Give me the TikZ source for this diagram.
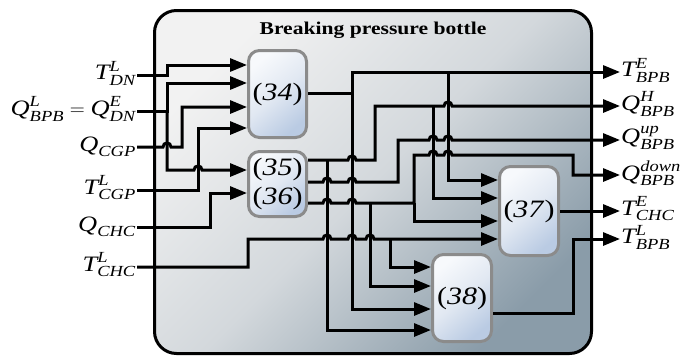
\documentclass[tikz,border=0pt]{standalone}
\usepackage{amsmath}
\usepackage{fontspec}
\setmainfont[FakeStretch=1.2]{Liberation Serif}
\usetikzlibrary{arrows.meta}
\definecolor{olt}{HTML}{F2F2F2}
\definecolor{omid}{HTML}{D3D8DC}
\definecolor{odk}{HTML}{8A9CA9}
\definecolor{blt}{HTML}{F7F9FC}
\definecolor{bmid}{HTML}{E1E8F2}
\definecolor{bdk}{HTML}{BACBE3}
\definecolor{bbord}{HTML}{8B8B8B}
\newcommand{\sg}[3]{$\text{\itshape #1}^{\text{\itshape #2}}_{\text{\itshape #3}}$}
\newcommand{\blab}[1]{(\textit{#1})}
\begin{document}
\begin{tikzpicture}[x=1pt,y=-1pt,
  wire/.style={line width=3pt, line join=miter},
  sig/.style={wire, -{Triangle[length=17pt,width=13pt]}},
  block/.style={draw=bbord, line width=3pt, rounded corners=11pt,
    top color=blt, bottom color=bdk, middle color=bmid, shading angle=40,
    inner sep=0pt, font=\fontsize{25}{29}\selectfont, align=center},
  lab/.style={inner sep=0pt, font=\fontsize{22}{26}\selectfont}]
\useasboundingbox (0,0) rectangle (684,356);
% outer box
\draw[line width=3pt, rounded corners=22pt, top color=olt, bottom color=odk, middle color=omid, shading angle=45]
  (154.5,10.5) rectangle (591.5,353.5);
\node[font=\bfseries\fontsize{18}{22}\selectfont] (title) at (373,30) {Breaking pressure bottle};
% blocks
\node[block, minimum width=58pt, minimum height=87pt] (b34) at (277.5,94) {\blab{34}};
\node[block, minimum width=58pt, minimum height=65pt] (b35) at (277.5,184) {\blab{35}\\\blab{36}};
\node[block, minimum width=59pt, minimum height=89pt] (b37) at (529,211) {\blab{37}};
\node[block, minimum width=59pt, minimum height=87pt] (b38) at (462,298) {\blab{38}};
% inputs
\coordinate (i1) at (137,75);
\coordinate (i2) at (137,111);
\coordinate (i3) at (137,147);
\coordinate (i4) at (137,190);
\coordinate (i5) at (137,227);
\coordinate (i6) at (137,267);
\node[lab, anchor=east] (l1) at ([xshift=-1pt,yshift=2pt]i1) {\sg{T}{L}{DN}};
\node[lab, anchor=east] (l2) at ([xshift=-1pt,yshift=2pt]i2) {\sg{Q}{L}{BPB}${}={}$\sg{Q}{E}{DN}};
\node[lab, anchor=east] (l3) at ([xshift=-1pt]i3) {\sg{Q}{}{CGP}};
\node[lab, anchor=east] (l4) at ([xshift=-1pt,yshift=2pt]i4) {\sg{T}{L}{CGP}};
\node[lab, anchor=east] (l5) at ([xshift=-1pt]i5) {\sg{Q}{}{CHC}};
\node[lab, anchor=east] (l6) at ([xshift=-1pt,yshift=2pt]i6) {\sg{T}{L}{CHC}};
% outputs
\coordinate (o1) at (620,72);
\coordinate (o2) at (620,106);
\coordinate (o3) at (620,140);
\coordinate (o4) at (620,175);
\coordinate (o5) at (620,211);
\coordinate (o6) at (620,239);
\node[lab, anchor=west] (r1) at ([xshift=1pt,yshift=2pt]o1) {\sg{T}{E}{BPB}};
\node[lab, anchor=west] (r2) at ([xshift=1pt,yshift=2pt]o2) {\sg{Q}{H}{BPB}};
\node[lab, anchor=west] (r3) at ([xshift=1pt,yshift=2pt]o3) {\sg{Q}{up}{BPB}};
\node[lab, anchor=west] (r4) at ([xshift=1pt,yshift=2pt]o4) {\sg{Q}{down}{BPB}};
\node[lab, anchor=west] (r5) at ([xshift=1pt,yshift=2pt]o5) {\sg{T}{E}{CHC}};
\node[lab, anchor=west] (r6) at ([xshift=1pt,yshift=2pt]o6) {\sg{T}{L}{BPB}};
% left wiring
\coordinate (j2) at (167,111);
\draw[sig] (i1) -- (167,75) -- (167,65) -- (b34.west |- 0,65);
\draw[sig] (i2) -- (j2) -- (167,83) -- (b34.west |- 0,83);
\draw[sig] (j2) -- (167,170) -- (194,170) .. controls (194,164.7) and (202,164.7) .. (202,170) -- (b35.west |- 0,170);
\draw[sig] (i3) -- (163,147) .. controls (163,141.7) and (171,141.7) .. (171,147) -- (182,147) -- (182,107) -- (b34.west |- 0,107);
\draw[sig] (i4) -- (198,190) -- (198,128) -- (b34.west |- 0,128);
\draw[sig] (i5) -- (210,227) -- (210,193) -- (b35.west |- 0,193);
\draw[sig] (i6) -- (248,267) -- (248,239) -- (323,239) .. controls (323,233.7) and (331,233.7) .. (331,239)
  -- (348,239) .. controls (348,233.7) and (356,233.7) .. (356,239)
  -- (366,239) .. controls (366,233.7) and (374,233.7) .. (374,239) -- (b37.west |- 0,239);
\coordinate (j6) at (390,239);
\draw[sig] (j6) -- (390,267) -- (b38.west |- 0,267);
% block 34 output
\coordinate (j34) at (352,93);
\draw[sig] (b34.east |- j34) -- (j34) -- (352,72) -- (o1);
\draw[sig] (j34) -- (352,309) -- (b38.west |- 0,309);
\draw[sig] (448,72) -- (448,180) -- (b37.west |- 0,180);
% block 35 output 1
\draw[sig] (b35.east |- 0,160) -- (348,160) .. controls (348,154.7) and (356,154.7) .. (356,160) -- (375,160) -- (375,106)
  -- (444,106) .. controls (444,100.7) and (452,100.7) .. (452,106) -- (o2);
\draw[sig] (327,160) -- (327,330) -- (b38.west |- 0,330);
\draw[sig] (433,106) -- (433,198) -- (b37.west |- 0,198);
% block 35 output 2
\draw[sig] (b35.east |- 0,182) -- (323,182) .. controls (323,176.7) and (331,176.7) .. (331,182)
  -- (348,182) .. controls (348,176.7) and (356,176.7) .. (356,182) -- (398,182) -- (398,140)
  -- (429,140) .. controls (429,134.7) and (437,134.7) .. (437,140)
  -- (444,140) .. controls (444,134.7) and (452,134.7) .. (452,140) -- (o3);
% block 36 output
\draw[sig] (b35.east |- 0,203) -- (323,203) .. controls (323,197.7) and (331,197.7) .. (331,203)
  -- (348,203) .. controls (348,197.7) and (356,197.7) .. (356,203) -- (414,203) -- (414,155)
  -- (429,155) .. controls (429,149.7) and (437,149.7) .. (437,155)
  -- (444,155) .. controls (444,149.7) and (452,149.7) .. (452,155) -- (573,155) -- (573,175) -- (o4);
\draw[sig] (370,203) -- (370,286) -- (b38.west |- 0,286);
\draw[sig] (414,203) -- (414,221) -- (b37.west |- 0,221);
% outputs of 37 and 38
\draw[sig] (b37.east) -- (o5);
\draw[sig] (b38.east |- 0,313) -- (573,313) -- (573,239) -- (o6);
\end{tikzpicture}
\end{document}
